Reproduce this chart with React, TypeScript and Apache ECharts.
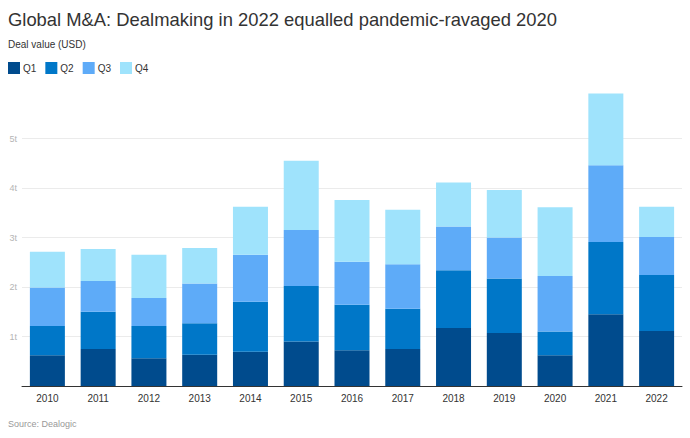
import React, { useEffect, useRef } from "react";
import * as echarts from "echarts";

const years = ["2010", "2011", "2012", "2013", "2014", "2015", "2016", "2017", "2018", "2019", "2020", "2021", "2022"];
const q1 = [0.62, 0.75, 0.56, 0.63, 0.69, 0.9, 0.72, 0.75, 1.17, 1.07, 0.62, 1.45, 1.11];
const q2 = [0.59, 0.75, 0.65, 0.64, 1.01, 1.12, 0.92, 0.81, 1.17, 1.1, 0.48, 1.46, 1.13];
const q3 = [0.78, 0.62, 0.57, 0.8, 0.95, 1.13, 0.87, 0.9, 0.88, 0.83, 1.12, 1.55, 0.77];
const q4 = [0.72, 0.65, 0.87, 0.72, 0.97, 1.4, 1.25, 1.1, 0.89, 0.96, 1.39, 1.45, 0.61];
const seriesNames = ["Q1", "Q2", "Q3", "Q4"];
const seriesColors = ["#004b8d", "#0077c8", "#5eabf8", "#9fe3fc"];

const FONT = "'Liberation Sans', Arial, Helvetica, sans-serif";

export default function App() {
  const ref = useRef<HTMLDivElement>(null);
  useEffect(() => {
    if (!ref.current) return;
    const chart = echarts.init(ref.current, undefined, { renderer: "svg" });
    const data = [q1, q2, q3, q4];
    chart.setOption({
      animation: false,
      textStyle: { fontFamily: FONT },
      title: [
        {
          text: "Global M&A: Dealmaking in 2022 equalled pandemic-ravaged 2020",
          left: 8,
          top: 10,
          padding: 0,
          textStyle: { fontFamily: FONT, fontSize: 18.4, fontWeight: "normal", color: "#333" },
        },
        {
          text: "Deal value (USD)",
          left: 8,
          top: 39,
          padding: 0,
          textStyle: { fontFamily: FONT, fontSize: 10, fontWeight: "normal", color: "#333" },
        },
        {
          text: "Source: Dealogic",
          left: 8,
          top: 419,
          padding: 0,
          textStyle: { fontFamily: FONT, fontSize: 9, fontWeight: "normal", color: "#999" },
        },
      ],
      legend: {
        left: 8,
        top: 62,
        padding: 0,
        itemWidth: 12,
        itemHeight: 12,
        itemGap: 9,
        icon: "rect",
        textStyle: { fontFamily: FONT, fontSize: 10, color: "#333", padding: [0, 0, 0, -2] },
        data: seriesNames,
      },
      grid: { left: 22, right: 8, top: 89, bottom: 52, containLabel: false },
      xAxis: {
        type: "category",
        data: years,
        axisLine: { show: true, lineStyle: { color: "#333", width: 1 } },
        axisTick: { show: false },
        axisLabel: { color: "#333", fontSize: 10, fontFamily: FONT, margin: 7 },
      },
      yAxis: {
        type: "value",
        min: 0,
        max: 6,
        interval: 1,
        axisLine: { show: false },
        axisTick: { show: false },
        splitLine: { show: true, showMaxLine: false, lineStyle: { color: "#ebebeb", width: 1 } },
        axisLabel: {
          color: "#b5b5b5",
          fontSize: 9,
          fontFamily: FONT,
          margin: 5,
          showMaxLabel: false,
          formatter: (v: number) => (v === 0 || v === 6 ? "" : v + "t"),
        },
      },
      series: seriesNames.map((name, i) => ({
        name,
        type: "bar",
        stack: "total",
        barWidth: 35,
        itemStyle: { color: seriesColors[i] },
        data: data[i],
      })),
    });
    return () => chart.dispose();
  }, []);
  return <div ref={ref} style={{ width: 690, height: 438, position: "absolute", left: 0, top: 0 }} />;
}
